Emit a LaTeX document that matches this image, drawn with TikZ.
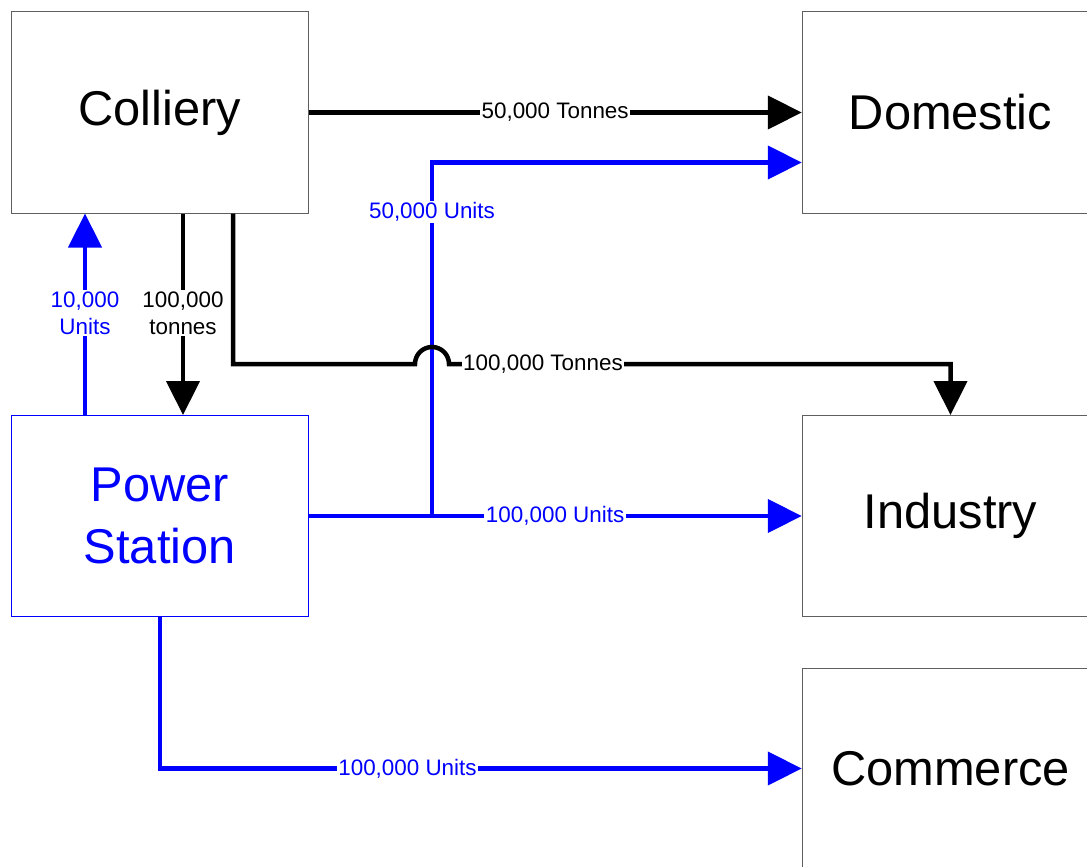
\documentclass[tikz,border=0pt]{standalone}
\usepackage{fontspec}
\setmainfont{Liberation Sans}
\usetikzlibrary{arrows.meta,calc}
\definecolor{pblue}{RGB}{0,0,255}
\definecolor{boxgray}{RGB}{95,95,95}
\begin{document}
\begin{tikzpicture}[x=1bp,y=-1bp,
  box/.style={draw=boxgray, line width=1bp, minimum width=296.5bp, minimum height=201bp,
    inner sep=0pt, font=\fontsize{49}{62}\selectfont, align=center},
  flow/.style={line width=4.5bp, -{Triangle[length=34bp,width=33bp]}},
  blk/.style={flow, draw=black},
  blu/.style={flow, draw=pblue},
  lbl/.style={fill=white, inner sep=1.5bp, font=\fontsize{22.5}{27}\selectfont, align=center},
]
\fill[white] (0,0) rectangle (1087,867);
\useasboundingbox (0,0) rectangle (1087,867);
\clip (0,0) rectangle (1087,867);

% boxes
\node[box] (colliery) at (159.75,112.5) {Colliery};
\node[box] (domestic) at (950.5,112.5) {Domestic};
\node[box, draw=pblue, text=pblue] (ps) at (159.75,516) {Power\\Station};
\node[box] (industry) at (950.5,516) {Industry};
\node[box] (commerce) at (950.5,768.5) {Commerce};

% connectors
\draw[blk] (colliery.east) -- (domestic.west)
  node[lbl, midway] (l1) {50,000 Tonnes};

\draw[blu] (ps.east) -- (industry.west)
  node[lbl, text=pblue, midway] (l2) {100,000 Units};

\coordinate (j) at (432,516);
\draw[blu] (j) |- ([yshift=-50bp]domestic.west);
\node[lbl, text=pblue] (l3) at (432,212) {50,000 Units};

\draw[blk] ([xshift=73.25bp]colliery.south) |- (415,364)
  arc[start angle=180, end angle=0, radius=17bp] -| (industry.north);
\node[lbl] (l4) at (543,364) {100,000 Tonnes};

\draw[blu] ([xshift=-74.75bp]ps.north) -- ([xshift=-74.75bp]colliery.south);
\node[lbl, text=pblue] (l5) at (85,313) {10,000\\Units};

\draw[blk] ([xshift=23.25bp]colliery.south) -- ([xshift=23.25bp]ps.north);
\node[lbl] (l6) at (183,313) {100,000\\tonnes};

\draw[blu] (ps.south) |- (commerce.west);
\node[lbl, text=pblue] (l7) at (407.5,768.5) {100,000 Units};
\end{tikzpicture}
\end{document}
